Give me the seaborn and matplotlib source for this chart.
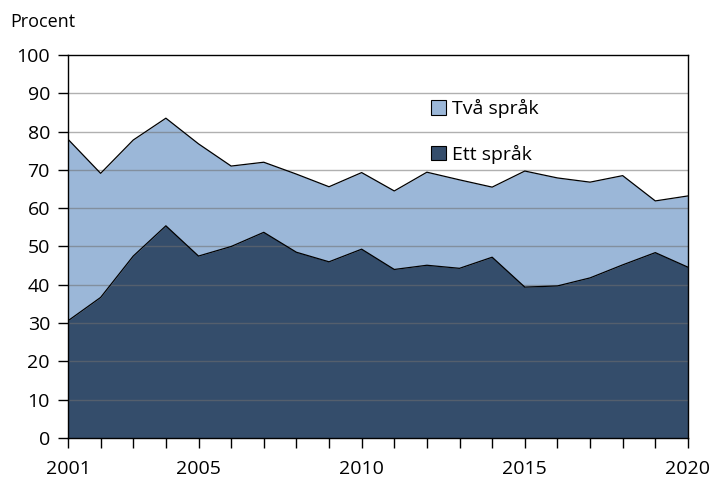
import numpy as np
import pandas as pd
import seaborn as sns
import matplotlib.pyplot as plt

# data
years = list(range(2001, 2021))
ett_sprak = [30.6, 36.7, 47.5, 55.4, 47.5, 50.0, 53.7, 48.5, 46.0, 49.3,
             44.0, 45.1, 44.3, 47.2, 39.4, 39.7, 41.8, 45.2, 48.4, 44.6]
totalt = [78.0, 69.1, 77.8, 83.5, 76.8, 71.0, 72.0, 68.9, 65.6, 69.3,
          64.5, 69.4, 67.4, 65.5, 69.7, 67.9, 66.8, 68.5, 61.9, 63.2]
tva_sprak = [t - e for t, e in zip(totalt, ett_sprak)]
label_years = [2001, 2005, 2010, 2015, 2020]

df = pd.DataFrame({"år": years, "Ett språk": ett_sprak,
                   "Två språk": tva_sprak})
df["Totalt"] = df["Ett språk"] + df["Två språk"]

sns.set_style("white", {"text.color": "black", "xtick.color": "black",
                        "ytick.color": "black", "axes.labelcolor": "black"})
plt.rcParams["font.family"] = ["Open Sans", "DejaVu Sans"]

dark = "#344d6b"
light = "#9bb7d8"

fig = plt.figure(figsize=(7.12, 4.79), dpi=100)
ax = fig.add_axes([0.0955, 0.0856, 0.8707, 0.7996])

ax.fill_between(df["år"], 0, df["Totalt"], color=light, lw=0,
                label="Två språk", zorder=1)
ax.fill_between(df["år"], 0, df["Ett språk"], color=dark, lw=0,
                label="Ett språk", zorder=1)
sns.lineplot(data=df, x="år", y="Totalt", color="black", lw=0.9, ax=ax,
             zorder=3)
sns.lineplot(data=df, x="år", y="Ett språk", color="black", lw=0.9, ax=ax,
             zorder=3)

# gridlines drawn over the fills
for v in range(10, 100, 10):
    ax.axhline(v, color="#6f6f6f", lw=1.0, alpha=0.55, zorder=2)

ax.set_xlim(2001, 2020)
ax.set_ylim(0, 100)
ax.set_yticks(range(0, 101, 10))
ax.set_xticks(years)
ax.set_xticklabels([str(y) if y in label_years else "" for y in years])
ax.tick_params(axis="both", direction="out", length=7, width=1,
               color="black", labelcolor="black", labelsize=14,
               bottom=True, left=True)
ax.tick_params(axis="y", pad=6)
ax.tick_params(axis="x", pad=9)
ax.set_xlabel("")
ax.set_ylabel("")
for s in ax.spines.values():
    s.set_color("black")
    s.set_linewidth(1.0)
    s.set_zorder(4)

fig.text(0.014, 0.955, "Procent", fontsize=13, va="center", ha="left",
         color="black")

h, l = ax.get_legend_handles_labels()
leg = ax.legend(h[:2], l[:2], loc="upper left", bbox_to_anchor=(0.558, 0.93),
                frameon=False, fontsize=14, handlelength=0.75,
                handleheight=0.75, labelspacing=1.35, handletextpad=0.3,
                labelcolor="black")
for p in leg.get_patches():
    p.set_edgecolor("black")
    p.set_linewidth(0.8)

fig.savefig("out.png", dpi=100)
